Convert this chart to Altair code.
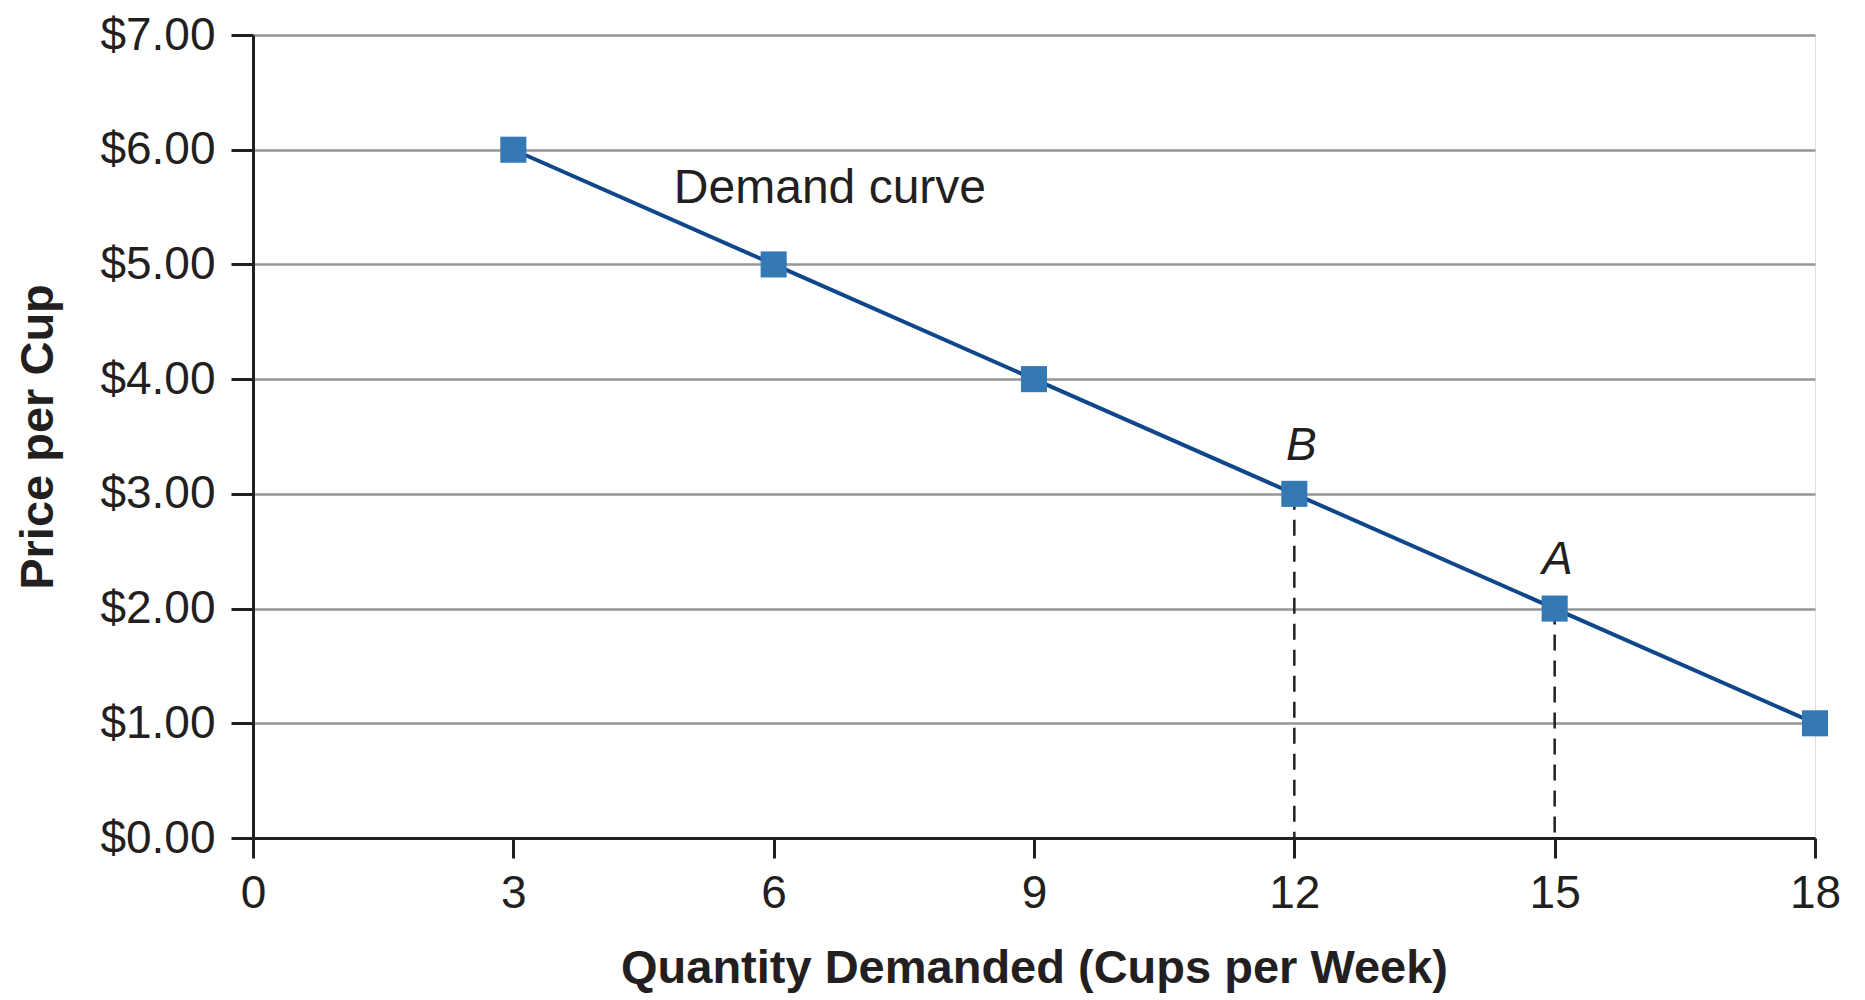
import altair as alt
import pandas as pd

quantity = [3, 6, 9, 12, 15, 18]
price = [6, 5, 4, 3, 2, 1]

point_labels = ["B", "A"]
label_x = [12.08, 15.03]
label_y = [3.42, 2.42]

drop_x = [12, 15]
drop_y = [3, 2]

curve_label = ["Demand curve"]
curve_label_x = [4.85]
curve_label_y = [5.66]

x_ticks = [0, 3, 6, 9, 12, 15, 18]
y_ticks = [0, 1, 2, 3, 4, 5, 6, 7]

W, H = 1562, 803
FONT = "Liberation Sans"
INK = "#231f20"

df = pd.DataFrame({"q": quantity, "p": price})
drops = pd.DataFrame({"q": drop_x, "p": drop_y, "z": [0] * len(drop_x)})
labs = pd.DataFrame({"q": label_x, "p": label_y, "t": point_labels})
clab = pd.DataFrame({"q": curve_label_x, "p": curve_label_y, "t": curve_label})

xscale = alt.Scale(domain=[0, 18], nice=False, zero=True)
yscale = alt.Scale(domain=[0, 7], nice=False, zero=True)

xaxis = alt.Axis(
    title="Quantity Demanded (Cups per Week)",
    values=x_ticks, grid=False, format="d", labelFlush=False,
    domainColor=INK, domainWidth=3,
    tickColor=INK, tickWidth=3, tickSize=20,
    labelFont=FONT, labelFontSize=46, labelColor=INK, labelPadding=13,
    titleFont=FONT, titleFontSize=47, titleFontWeight="bold", titleColor=INK,
    titlePadding=29,
)
yaxis = alt.Axis(
    title="Price per Cup",
    values=y_ticks, format="$.2f", labelFlush=False,
    grid=True, gridColor="#969696", gridWidth=2.5,
    domainColor=INK, domainWidth=3,
    tickColor=INK, tickWidth=3, tickSize=22,
    labelFont=FONT, labelFontSize=46, labelColor=INK, labelPadding=16,
    titleFont=FONT, titleFontSize=47, titleFontWeight="bold", titleColor=INK,
    titlePadding=37,
)

base = alt.Chart(df)

line = base.mark_line(color="#0f478a", strokeWidth=4).encode(
    x=alt.X("q:Q", scale=xscale, axis=xaxis),
    y=alt.Y("p:Q", scale=yscale, axis=yaxis),
)

pts = base.mark_square(color="#3479b3", size=680, opacity=1).encode(
    x=alt.X("q:Q", scale=xscale),
    y=alt.Y("p:Q", scale=yscale),
)

dash = alt.Chart(drops).mark_rule(color=INK, strokeWidth=2.5, strokeDash=[16, 10]).encode(
    x=alt.X("q:Q", scale=xscale),
    y=alt.Y("p:Q", scale=yscale),
    y2="z:Q",
)

ptext = alt.Chart(labs).mark_text(
    font=FONT, fontSize=46, fontStyle="italic", color=INK, align="center", baseline="middle"
).encode(
    x=alt.X("q:Q", scale=xscale),
    y=alt.Y("p:Q", scale=yscale),
    text="t:N",
)

ctext = alt.Chart(clab).mark_text(
    font=FONT, fontSize=48, color=INK, align="left", baseline="middle"
).encode(
    x=alt.X("q:Q", scale=xscale),
    y=alt.Y("p:Q", scale=yscale),
    text="t:N",
)

chart = alt.layer(dash, line, pts, ptext, ctext).properties(
    width=W, height=H,
    autosize=alt.AutoSizeParams(type="none"),
    padding={"left": 245, "top": 27, "right": 40, "bottom": 162},
).configure_view(stroke=None).configure(background="white")

chart.save("out.html", embed_options={"renderer": "svg", "actions": False})
